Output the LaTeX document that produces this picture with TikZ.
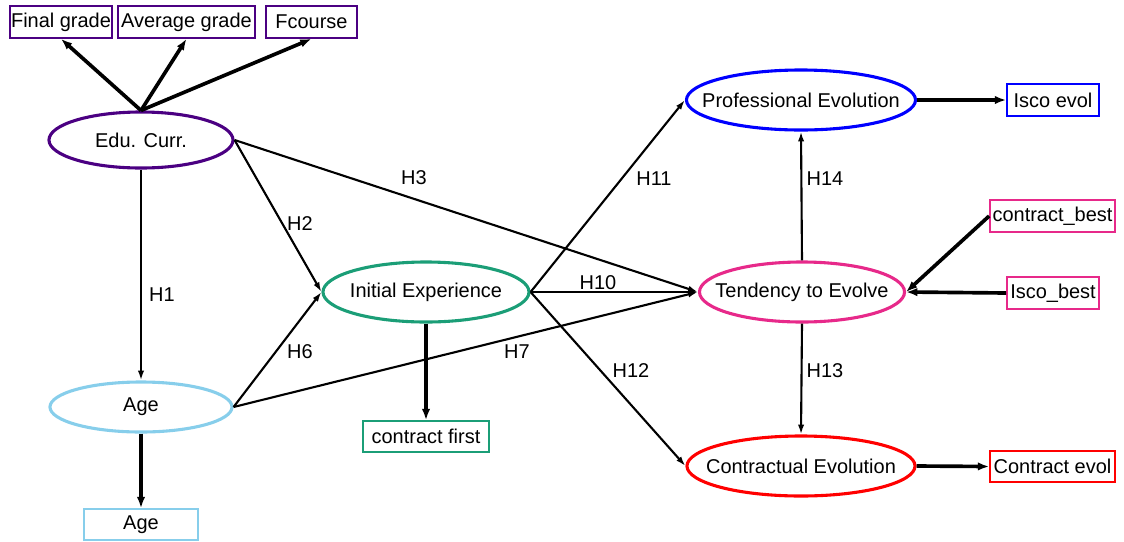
\documentclass[tikz,border=0pt]{standalone}
\usepackage{fontspec}
\setmainfont{Liberation Sans}
\usetikzlibrary{shapes.geometric,arrows.meta}
\definecolor{cpurple}{HTML}{4B0082}
\definecolor{cgreen}{HTML}{1B9E77}
\definecolor{csky}{HTML}{87CEEB}
\definecolor{cblue}{HTML}{0000FF}
\definecolor{cpink}{HTML}{E7298A}
\definecolor{cred}{HTML}{FF0000}
\begin{document}
\begin{tikzpicture}[x=0.025cm,y=-0.025cm,
  every node/.style={font=\fontsize{14.2}{17}\selectfont,text=black},
  every label/.style={text=black,inner sep=0pt},
  latent/.style={ellipse,draw,line width=2.2pt,inner sep=0pt,minimum height=1.5cm,label={center:#1}},
  indicator/.style={rectangle,draw=#1,line width=1.2pt,inner sep=0pt,minimum height=0.8cm},
  edge/.style={line width=1.5pt,-{Latex[length=7pt,width=4.5pt]}},
  load/.style={line width=2.6pt,-{Latex[length=8pt,width=6pt]}},
  lbl/.style={inner sep=1pt}]
\useasboundingbox (0,0) rectangle (1124,541);
% latent variables (fixed-size ellipses, text as centred label)
\node[latent={Edu. Curr.},draw=cpurple,minimum width=4.6cm,minimum height=1.4cm] (edu) at (141,140) {};
\node[latent={Age},draw=csky,minimum width=4.55cm,minimum height=1.25cm] (age) at (141,407) {};
\node[latent={Initial Experience},draw=cgreen,minimum width=5.15cm] (ie) at (426,292) {};
\node[latent={Professional Evolution},draw=cblue,minimum width=5.725cm] (pe) at (801,100) {};
\node[latent={Tendency to Evolve},draw=cpink,minimum width=5.125cm] (te) at (802,292) {};
\node[latent={Contractual Evolution},draw=cred,minimum width=5.7cm] (ce) at (801,466) {};
% indicators
\node[indicator=cpurple,minimum width=2.55cm] (fg) at (61,22) {Final grade};
\node[indicator=cpurple,minimum width=3.425cm] (ag) at (186.5,22) {Average grade};
\node[indicator=cpurple,minimum width=2.275cm] (fc) at (311.5,22) {Fcourse};
\node[indicator=csky,minimum width=2.85cm,minimum height=0.775cm] (agebox) at (141,524.5) {Age};
\node[indicator=cgreen,minimum width=3.15cm,minimum height=0.775cm] (cf) at (426,436.5) {contract first};
\node[indicator=cblue,minimum width=2.3cm] (ie2) at (1053,100) {Isco evol};
\node[indicator=cpink,minimum width=3.125cm] (cb) at (1052.5,216) {contract\_best};
\node[indicator=cpink,minimum width=2.3cm] (ib) at (1053,293) {Isco\_best};
\node[indicator=cred,minimum width=3.125cm,minimum height=0.775cm] (cev) at (1052.5,466.5) {Contract evol};
% loadings
\draw[load] (edu.north) -- (fg.south);
\draw[load] (edu.north) -- (ag.south);
\draw[load] (edu.north) -- (fc.south);
\draw[load] (age.south) -- (agebox.north);
\draw[load] (ie.south) -- (cf.north);
\draw[load] (pe.east) -- (ie2.west);
\draw[load] (ce.east) -- (cev.west);
\draw[load] (cb.west) -- (te.east);
\draw[load] (ib.west) -- (te.east);
% structural paths
\draw[edge] (edu.south) -- (age.north) node[lbl] at (162,295) {H1};
\draw[edge] (edu.east) -- (ie.west) node[lbl] at (300,224) {H2};
\draw[edge] (edu.east) -- (te.west) node[lbl] at (414,178) {H3};
\draw[edge] (age.east) -- (ie.west) node[lbl] at (300,352) {H6};
\draw[edge] (age.east) -- (te.west) node[lbl] at (517,352) {H7};
\draw[edge] (ie.east) -- (te.west) node[lbl] at (598,283) {H10};
\draw[edge] (ie.east) -- (pe.west) node[lbl] at (654,179) {H11};
\draw[edge] (ie.east) -- (ce.west) node[lbl] at (631,371) {H12};
\draw[edge] (te.south) -- (ce.north) node[lbl] at (825,371) {H13};
\draw[edge] (te.north) -- (pe.south) node[lbl] at (825,179) {H14};
\end{tikzpicture}
\end{document}
